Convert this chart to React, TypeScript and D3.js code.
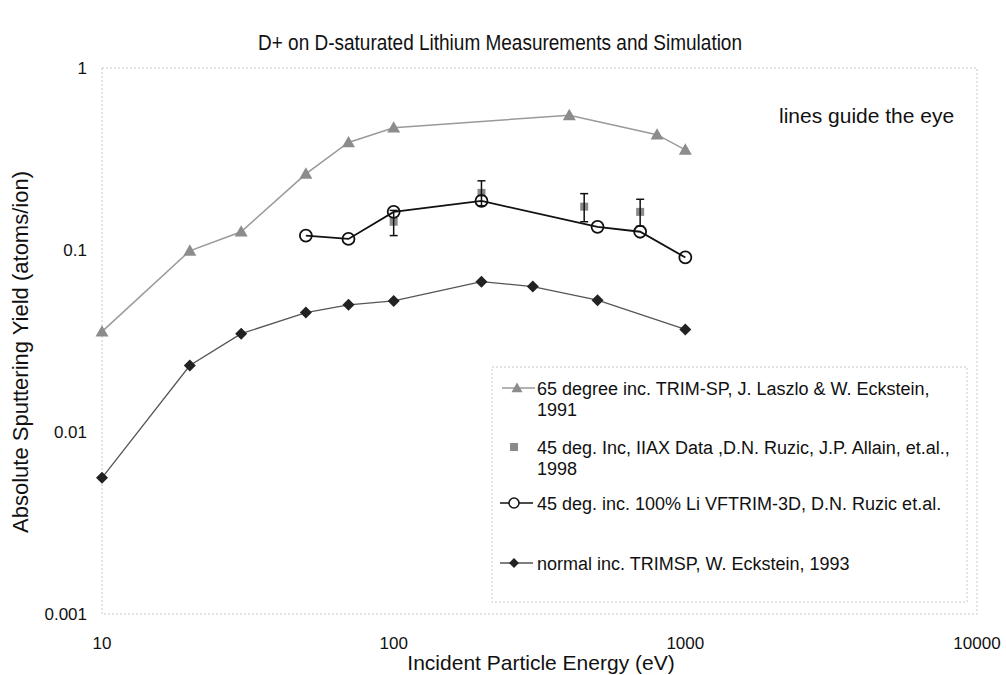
import React from "react";
import * as d3 from "d3";

// ---- data ----
const triX = [10, 20, 30, 50, 70, 100, 400, 800, 1000];
const triY = [0.0356, 0.099, 0.126, 0.262, 0.39, 0.47, 0.55, 0.43, 0.355];

const expX = [100, 200, 450, 700];
const expY = [0.143, 0.206, 0.173, 0.162];
const expLo = [0.12, 0.175, 0.143, 0.135];
const expHi = [0.165, 0.24, 0.204, 0.19];

const circX = [50, 70, 100, 200, 500, 700, 1000];
const circY = [0.12, 0.115, 0.162, 0.186, 0.134, 0.126, 0.091];

const diaX = [10, 20, 30, 50, 70, 100, 200, 300, 500, 1000];
const diaY = [0.0056, 0.0232, 0.0347, 0.0453, 0.05, 0.0525, 0.067, 0.063, 0.053, 0.0366];

const xTicks = [10, 100, 1000, 10000];
const yTicks = [1, 0.1, 0.01, 0.001];
const yTickLabels = ["1", "0.1", "0.01", "0.001"];

const legendLines = [
  ["65 degree inc. TRIM-SP, J. Laszlo & W. Eckstein,", "1991"],
  ["45 deg. Inc, IIAX Data ,D.N. Ruzic, J.P. Allain, et.al.,", "1998"],
  ["45 deg. inc. 100% Li VFTRIM-3D, D.N. Ruzic et.al."],
  ["normal inc. TRIMSP, W. Eckstein, 1993"],
];

const FONT = "'Liberation Sans', Arial, Helvetica, sans-serif";

export default function App() {
  const W = 1006, H = 675;
  const L = 102, R = 977, T = 68, B = 614;
  const x = d3.scaleLog().domain([10, 10000]).range([L, R]);
  const y = d3.scaleLog().domain([0.001, 1]).range([B, T]);

  const line = (xs: number[], ys: number[]) =>
    d3.line<number>().x((_, i) => x(xs[i])).y((d) => y(d))(ys) || "";

  const tri = (cx: number, cy: number, s = 6.5) =>
    `M${cx},${cy - s}L${cx + s},${cy + s * 0.75}L${cx - s},${cy + s * 0.75}Z`;
  const dia = (cx: number, cy: number, s = 6) =>
    `M${cx},${cy - s}L${cx + s},${cy}L${cx},${cy + s}L${cx - s},${cy}Z`;

  const triColor = "#8c8c8c";
  const triLine = "#9a9a9a";
  const sqColor = "#8a8a8a";
  const diaColor = "#222";
  const diaLine = "#555";

  const legL = 492, legR = 967, legT = 367, legB = 602;
  const legSymX = 514;
  const legTextX = 537;
  const legY = [388, 447, 503, 563];

  return (
    <svg width={W} height={H} style={{ display: "block", position: "absolute", left: 0, top: 0 }} fontFamily={FONT}>
      <rect x={0} y={0} width={W} height={H} fill="#fff" />
      <text x={258} y={50} fontSize={22} fill="#111" textLength={484} lengthAdjust="spacingAndGlyphs">
        D+ on D-saturated Lithium Measurements and Simulation
      </text>

      {/* plot border */}
      <rect x={L} y={T} width={R - L} height={B - T} fill="none" stroke="#c8c8c8" strokeWidth={1} strokeDasharray="2,2" />

      {/* y ticks */}
      {yTicks.map((t, i) => (
        <text key={t} x={87} y={y(t) + 6} textAnchor="end" fontSize={17} fill="#111">
          {yTickLabels[i]}
        </text>
      ))}
      {/* x ticks */}
      {xTicks.map((t) => (
        <text key={t} x={x(t)} y={649} textAnchor="middle" fontSize={17} fill="#111">
          {t}
        </text>
      ))}

      <text x={541} y={670} textAnchor="middle" fontSize={21} fill="#111">
        Incident Particle Energy (eV)
      </text>
      <text transform={`translate(28,352) rotate(-90)`} textAnchor="middle" fontSize={22} fill="#111">
        Absolute Sputtering Yield (atoms/ion)
      </text>

      <text x={779} y={123} fontSize={21} fill="#111">lines guide the eye</text>

      {/* triangles series */}
      <path d={line(triX, triY)} fill="none" stroke={triLine} strokeWidth={1.5} />
      {triX.map((v, i) => (
        <path key={i} d={tri(x(v), y(triY[i]))} fill={triColor} />
      ))}

      {/* diamonds series */}
      <path d={line(diaX, diaY)} fill="none" stroke={diaLine} strokeWidth={1.3} />
      {diaX.map((v, i) => (
        <path key={i} d={dia(x(v), y(diaY[i]))} fill={diaColor} />
      ))}

      {/* experimental squares with error bars */}
      {expX.map((v, i) => (
        <g key={i}>
          <rect x={x(v) - 4} y={y(expY[i]) - 4} width={8} height={8} fill={sqColor} />
          <line x1={x(v)} x2={x(v)} y1={y(expLo[i])} y2={y(expHi[i])} stroke="#111" strokeWidth={1.5} />
          <line x1={x(v) - 4} x2={x(v) + 4} y1={y(expLo[i])} y2={y(expLo[i])} stroke="#111" strokeWidth={1.5} />
          <line x1={x(v) - 4} x2={x(v) + 4} y1={y(expHi[i])} y2={y(expHi[i])} stroke="#111" strokeWidth={1.5} />
        </g>
      ))}

      {/* circles series */}
      <path d={line(circX, circY)} fill="none" stroke="#111" strokeWidth={1.8} />
      {circX.map((v, i) => (
        <circle key={i} cx={x(v)} cy={y(circY[i])} r={6} fill="none" stroke="#111" strokeWidth={1.8} />
      ))}

      {/* legend */}
      <rect x={legL} y={legT} width={legR - legL} height={legB - legT} fill="#fff" stroke="#c8c8c8" strokeWidth={1} strokeDasharray="2,2" />
      {/* entry 1 */}
      <line x1={502} x2={535} y1={legY[0]} y2={legY[0]} stroke={triLine} strokeWidth={1.5} />
      <path d={tri(517, legY[0], 5.5)} fill={triColor} />
      {/* entry 2 */}
      <rect x={legSymX - 4} y={legY[1] - 4} width={8} height={8} fill={sqColor} />
      {/* entry 3 */}
      <line x1={500} x2={533} y1={legY[2]} y2={legY[2]} stroke="#111" strokeWidth={1.5} />
      <circle cx={514} cy={legY[2]} r={5} fill="#fff" stroke="#111" strokeWidth={1.5} />
      {/* entry 4 */}
      <line x1={500} x2={533} y1={legY[3]} y2={legY[3]} stroke={diaLine} strokeWidth={1.3} />
      <path d={dia(514, legY[3], 5)} fill={diaColor} />

      {legendLines.map((lines, i) =>
        lines.map((s, j) => (
          <text key={`${i}-${j}`} x={legTextX} y={legY[i] + 6.5 + j * 21} fontSize={18} fill="#111">
            {s}
          </text>
        ))
      )}
    </svg>
  );
}
